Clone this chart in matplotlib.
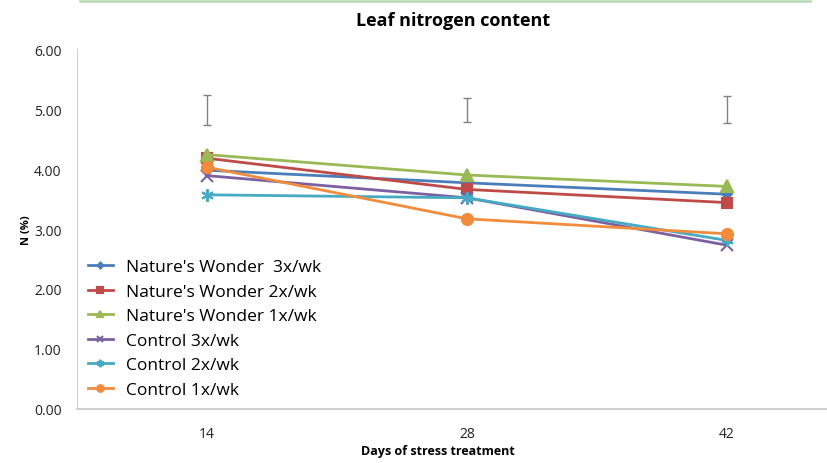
import numpy as np
import matplotlib.pyplot as plt
from matplotlib.lines import Line2D

days = ['14', '28', '42']
nw_3x = [3.98, 3.77, 3.58]
nw_2x = [4.18, 3.66, 3.44]
nw_1x = [4.24, 3.90, 3.71]
ctl_3x = [3.89, 3.52, 2.73]
ctl_2x = [3.57, 3.52, 2.81]
ctl_1x = [4.03, 3.17, 2.92]
err_center = [4.98, 4.98, 4.99]
err_half = [0.25, 0.20, 0.23]

series = [
    ("Nature's Wonder  3x/wk", nw_3x, '#4A7EBB', 'D', 5),
    ("Nature's Wonder 2x/wk", nw_2x, '#BE4B48', 's', 7),
    ("Nature's Wonder 1x/wk", nw_1x, '#98B954', '^', 8),
    ("Control 3x/wk", ctl_3x, '#7D60A0', 'x', 8),
    ("Control 2x/wk", ctl_2x, '#46AAC5', (6, 2, 0), 9),
    ("Control 1x/wk", ctl_1x, '#F08C3C', 'o', 8),
]

plt.rcParams['font.family'] = ['Open Sans', 'DejaVu Sans']

fig = plt.figure(figsize=(8.27, 4.64), dpi=100)
ax = fig.add_axes([0.093, 0.1164, 0.907, 0.7758])

x = np.arange(len(days))
for name, vals, col, mk, ms in series:
    ax.plot(x, vals, color=col, lw=2.0, marker=mk, ms=ms, mew=1.5,
            label=name)

ax.errorbar(x, err_center, yerr=err_half, fmt='none', ecolor='#808080',
            elinewidth=1.0, capsize=3, capthick=1.0)

ax.set_xlim(-0.5, 2.385)
ax.set_ylim(0, 6)
ax.set_yticks(np.arange(0, 6.01, 1))
ax.set_yticklabels([f'{v:.2f}' for v in np.arange(0, 6.01, 1)])
ax.set_xticks(x)
ax.set_xticklabels(days)
ax.tick_params(axis='y', length=0, pad=11, labelsize=10, colors='#222222')
ax.tick_params(axis='x', length=0, pad=12, labelsize=10, colors='#222222')

for s in ['top', 'right']:
    ax.spines[s].set_visible(False)
ax.spines['left'].set_color('#d0d0d0')
ax.spines['bottom'].set_color('#c8c8c8')
ax.spines['bottom'].set_linewidth(1.2)

ax.set_xlabel('Days of stress treatment', fontsize=9, fontweight='bold')
ax.xaxis.set_label_coords(0.5 - 14 / 750, -0.098)
ax.set_ylabel('N (%)', fontsize=8, fontweight='bold')
ax.yaxis.set_label_coords(-0.060, 0.5)

fig.text(0.548, 0.955, 'Leaf nitrogen content', ha='center', va='center',
         fontsize=13, fontweight='bold')

# thin green border line at the top of the crop
fig.add_artist(Line2D([0.097, 0.98], [0.996, 0.996], color='#b5dbb0',
                      lw=1.8, transform=fig.transFigure))

ax.legend(loc='lower left', bbox_to_anchor=(0.0, 0.0), frameon=False,
          fontsize=12.5, handlelength=1.4, handletextpad=0.75,
          labelspacing=0.48, borderaxespad=0.25, markerscale=0.6)

fig.savefig('out.png', dpi=100)
